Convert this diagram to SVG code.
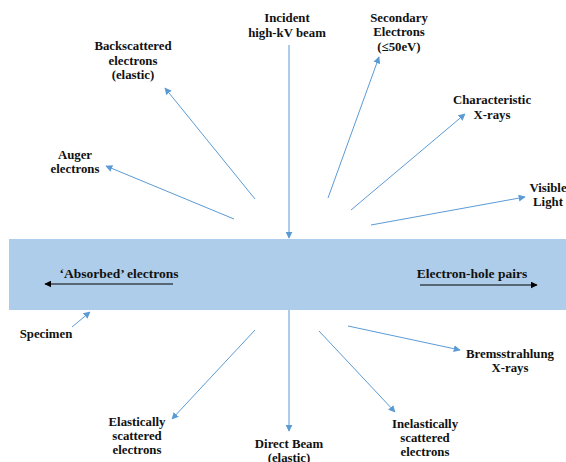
<svg xmlns="http://www.w3.org/2000/svg" width="566" height="462" viewBox="0 0 566 462">
<style>
text{font-family:"Liberation Serif","Times New Roman",serif;font-weight:bold;font-size:12.8px;fill:#111;text-anchor:middle}
.big{font-size:13.5px}
.c{stroke:#5B9BD5;stroke-width:1;fill:none;marker-end:url(#ab)}
.k{stroke:#000;stroke-width:1;fill:none;marker-end:url(#ak)}
</style>
<defs>
<marker id="ab" viewBox="0 0 10 10" refX="9" refY="5" markerWidth="7" markerHeight="7" markerUnits="userSpaceOnUse" orient="auto"><path d="M0,0L10,5L0,10z" fill="#5B9BD5"/></marker>
<marker id="ak" viewBox="0 0 10 10" refX="9" refY="5" markerWidth="7" markerHeight="7" markerUnits="userSpaceOnUse" orient="auto"><path d="M0,0L10,5L0,10z" fill="#000"/></marker>
</defs>
<g id="specimen"><rect x="9" y="239" width="557" height="71" fill="#AECDEA"/></g>
<g id="connectors">
<line class="c" x1="289" y1="45" x2="289" y2="238"/>
<line class="c" x1="289" y1="310" x2="289" y2="431"/>
<line class="c" x1="255" y1="199" x2="165" y2="88"/>
<line class="c" x1="234" y1="219" x2="106" y2="166"/>
<line class="c" x1="328" y1="198" x2="379" y2="57"/>
<line class="c" x1="351" y1="210" x2="465" y2="114"/>
<line class="c" x1="371" y1="225" x2="525" y2="197"/>
<line class="c" x1="72" y1="327" x2="90" y2="312"/>
<line class="c" x1="255" y1="330" x2="172" y2="419"/>
<line class="c" x1="319" y1="331" x2="395" y2="412"/>
<line class="c" x1="348" y1="326" x2="460" y2="350"/>
<line class="k" x1="173" y1="284" x2="45" y2="284"/>
<line class="k" x1="420" y1="285" x2="537" y2="285"/>
</g>
<g id="incident"><text x="287" y="22">Incident</text><text x="287" y="37">high-kV beam</text></g>
<g id="backscattered"><text x="133" y="50">Backscattered</text><text x="133" y="65">electrons</text><text x="133" y="79">(elastic)</text></g>
<g id="auger"><text x="75" y="159">Auger</text><text x="75" y="173">electrons</text></g>
<g id="secondary"><text x="399" y="22">Secondary</text><text x="399" y="36">Electrons</text><text x="399" y="51">(≤50eV)</text></g>
<g id="characteristic"><text x="492" y="104">Characteristic</text><text x="492" y="119">X-rays</text></g>
<g id="visible"><text x="548" y="192">Visible</text><text x="548" y="206">Light</text></g>
<g id="absorbed"><text class="big" x="119" y="278">‘Absorbed’ electrons</text></g>
<g id="ehpairs"><text class="big" x="472" y="278">Electron-hole pairs</text></g>
<g id="specimen-label"><text x="46" y="338">Specimen</text></g>
<g id="elastic"><text x="137" y="426">Elastically</text><text x="137" y="440">scattered</text><text x="137" y="454">electrons</text></g>
<g id="direct"><text x="289" y="448">Direct Beam</text><text x="289" y="462">(elastic)</text></g>
<g id="inelastic"><text x="425" y="428">Inelastically</text><text x="425" y="442">scattered</text><text x="425" y="456">electrons</text></g>
<g id="brems"><text x="510" y="358">Bremsstrahlung</text><text x="510" y="372">X-rays</text></g>
</svg>
